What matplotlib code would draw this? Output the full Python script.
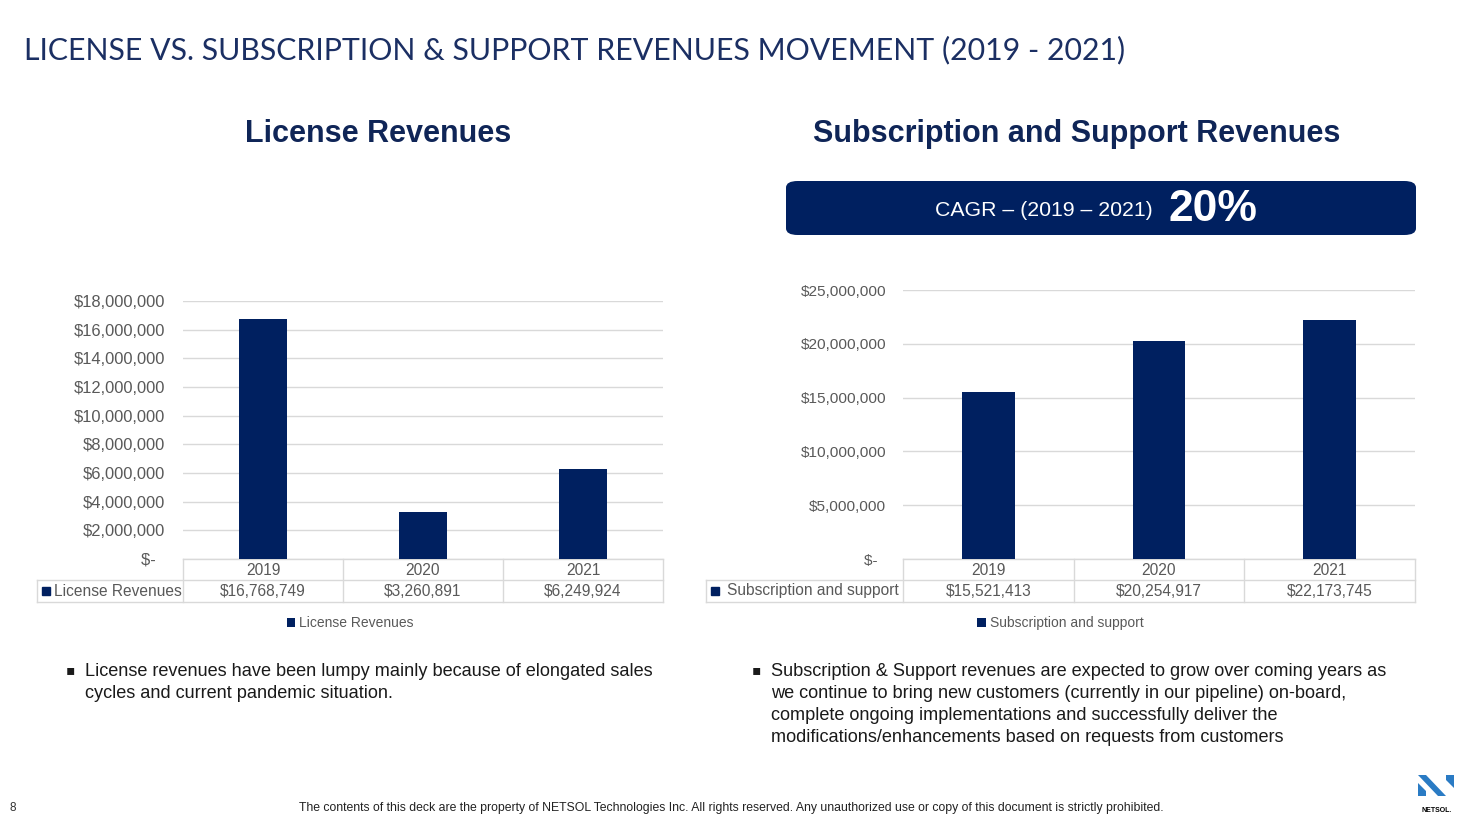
import matplotlib
matplotlib.use("Agg")
import matplotlib.pyplot as plt
from matplotlib.patches import FancyBboxPatch, Polygon
from matplotlib.ticker import FuncFormatter
import matplotlib.transforms as mtransforms

# data
years = ["2019", "2020", "2021"]
license_rev = [16768749, 3260891, 6249924]
subs_rev = [15521413, 20254917, 22173745]
license_label = "License Revenues"
subs_label = "Subscription and support"
cagr = "20%"

W, H = 1467, 825
NAVY = "#002060"
GREY = "#595959"
LINE = "#d9d9d9"

plt.rcParams['font.family'] = ['Liberation Sans', 'DejaVu Sans']

fig = plt.figure(figsize=(W / 100, H / 100), dpi=100)


def fx(x):
    return x / W


def fy(y):
    return 1 - y / H


def money(v, pos=None):
    if v == 0:
        return "$-  "
    return "${:,.0f}".format(v)


def panel(left, right, top, bottom, label_left, values, ymax, step, label, title,
          title_x, tick_size, pad, bw, lab_off):
    ax = fig.add_axes([fx(left), fy(bottom), fx(right - left), (bottom - top) / H])
    n = len(values)
    bars = ax.bar(range(n), values, width=bw, color=NAVY, zorder=3)
    ax.set_xlim(-0.5, n - 0.5)
    ax.set_ylim(0, ymax)
    ax.set_yticks(range(0, ymax + 1, step))
    ax.yaxis.set_major_formatter(FuncFormatter(money))
    ax.tick_params(axis='y', length=0, pad=pad, labelsize=tick_size, labelcolor=GREY)
    ax.set_xticks([])
    ax.grid(axis='y', color=LINE, linewidth=1, zorder=0)
    for s in ax.spines.values():
        s.set_visible(False)

    # data table under the chart
    hpx = bottom - top
    y1 = -21 / hpx
    y2 = -43 / hpx
    cw = (right - left) / n
    xl = -0.5 - (left - label_left) / cw
    tr = mtransforms.blended_transform_factory(ax.transData, ax.transAxes)
    kw = dict(color=LINE, linewidth=1, transform=tr, clip_on=False)
    ax.plot([-0.5, n - 0.5], [0, 0], **kw)
    ax.plot([xl, n - 0.5], [y1, y1], **kw)
    ax.plot([xl, n - 0.5], [y2, y2], **kw)
    ax.plot([xl, xl], [y1, y2], **kw)
    for i in range(n + 1):
        ax.plot([i - 0.5, i - 0.5], [0, y2], **kw)
    for i, (yr, v) in enumerate(zip(years, values)):
        ax.text(i, (0 + y1) / 2 - 0.004, yr, transform=tr, ha='center', va='center',
                fontsize=11.2, color=GREY)
        ax.text(i, (y1 + y2) / 2 - 0.002, "${:,.0f}".format(v), transform=tr, ha='center',
                va='center', fontsize=11.2, color=GREY)
    ax.plot([xl + 9 / cw], [(y1 + y2) / 2], marker='s', markersize=6, color=NAVY,
            transform=tr, clip_on=False)
    ax.text(xl + lab_off / cw, (y1 + y2) / 2, label, transform=tr, ha='left', va='center',
            fontsize=11.2, color=GREY)

    fig.legend([bars], [label], loc='center',
               bbox_to_anchor=(fx((label_left + right) / 2), fy(623)),
               frameon=False, fontsize=10, labelcolor=GREY,
               handlelength=0.6, handleheight=0.6, handletextpad=0.3)

    fig.text(fx(title_x), fy(134), title, ha='center', va='center', fontsize=22,
             fontweight='bold', color="#0f2557")
    return ax


panel(183, 663, 301, 559, 37, license_rev, 18000000, 2000000, license_label,
      "License Revenues", 378, 11.9, 13, 0.3, 17)
panel(903, 1415, 290, 559, 706, subs_rev, 25000000, 5000000, subs_label,
      "Subscription and Support Revenues", 1077, 11.1, 12.2, 0.31, 21)

# slide title
fig.text(fx(24), fy(50), "LICENSE VS. SUBSCRIPTION & SUPPORT REVENUES MOVEMENT (2019 - 2021)",
         ha='left', va='center', fontsize=21.8, color="#1b2f63", family=['Lato', 'DejaVu Sans'])

# CAGR banner
box = FancyBboxPatch((fx(786), fy(235)), fx(630), 54 / H,
                     boxstyle="round,pad=0,rounding_size=0.008",
                     transform=fig.transFigure, facecolor=NAVY, edgecolor='none')
fig.patches.append(box)
fig.text(fx(1153), fy(211), "CAGR \u2013 (2019 \u2013 2021)", ha='right', va='center',
         fontsize=15.3, color='white')
fig.text(fx(1169), fy(209), cagr, ha='left', va='center', fontsize=32,
         fontweight='bold', color='white')

# bullets
left_lines = ["License revenues have been lumpy mainly because of elongated sales",
              "cycles and current pandemic situation."]
right_lines = ["Subscription & Support revenues are expected to grow over coming years as",
               "we continue to bring new customers (currently in our pipeline) on-board,",
               "complete ongoing implementations and successfully deliver the",
               "modifications/enhancements based on requests from customers"]
for bx, lines in ((66, left_lines), (752, right_lines)):
    fig.text(fx(bx), fy(670), "\u25aa", ha='left', va='center', fontsize=10,
             color="#1a1a1a", family=['DejaVu Sans'])
    for k, ln in enumerate(lines):
        fig.text(fx(bx + 19), fy(671 + 22 * k), ln, ha='left', va='center',
                 fontsize=13.1, color="#1a1a1a")

# footer
fig.text(fx(10), fy(808), "8", ha='left', va='center', fontsize=8.5, color="#333333")
fig.text(fx(731), fy(808),
         "The contents of this deck are the property of NETSOL Technologies Inc. All rights reserved. "
         "Any unauthorized use or copy of this document is strictly prohibited.",
         ha='center', va='center', fontsize=8.8, color="#222222")

# logo
LB = "#2a7bc4"
for pts in ([(1418, 775), (1426, 775), (1446, 796), (1438, 796)],
            [(1418, 783), (1426, 791), (1426, 796), (1418, 796)],
            [(1446, 775), (1454, 775), (1454, 788), (1446, 780)]):
    fig.patches.append(Polygon([(fx(a), fy(b)) for a, b in pts], closed=True,
                               transform=fig.transFigure, facecolor=LB, edgecolor='none'))
fig.text(fx(1437), fy(811), "NETSOL.", ha='center', va='center', fontsize=5,
         fontweight='bold', color='black')

fig.savefig("out.png", dpi=100, facecolor='white')
